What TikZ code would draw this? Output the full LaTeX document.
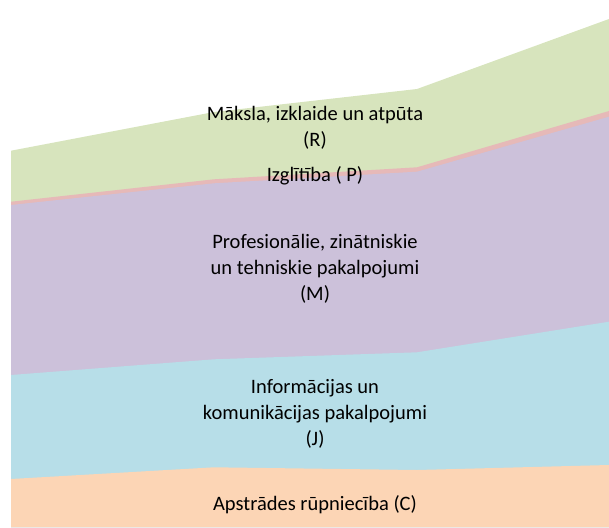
\documentclass[tikz,border=0pt]{standalone}
\usepackage{fontspec}
\setmainfont{Carlito}
\definecolor{artsgreen}{HTML}{D7E4BD}
\definecolor{edupink}{HTML}{E6B9B8}
\definecolor{profpurple}{HTML}{CCC1DA}
\definecolor{infoblue}{HTML}{B7DEE8}
\definecolor{mfgorange}{HTML}{FCD5B5}
\begin{document}
\begin{tikzpicture}[x=1pt,y=-1pt,
                every node/.style={align=center,inner sep=0pt,
                  font=\fontsize{20.5}{26}\selectfont}]
  \useasboundingbox (0,0) rectangle (609,527);
  % layers, top one first, each filled down to the base
  \foreach \col/\a/\b/\c/\d in {artsgreen/150.7/112/89/19,
                                edupink/201.7/179.3/167.3/111,
                                profpurple/205/183.3/171.7/116.7,
                                infoblue/375/359.3/352.3/321.7,
                                mfgorange/479/467.3/470/465}
    \fill[\col] (11,527) -- (11,\a) -- (214,\b) -- (417,\c) -- (609,\d)
                -- (609,527) -- cycle;
  \node (arts) at (315,127.5) {Māksla, izklaide un atpūta\\(R)};
  \node (edu)  at (315,176) {Izglītība ( P)};
  \node (prof) at (315,269) {Profesionālie, zinātniskie\\un tehniskie pakalpojumi\\(M)};
  \node (info) at (315,413.5) {Informācijas un\\komunikācijas pakalpojumi\\(J)};
  \node (mfg)  at (315,505) {Apstrādes rūpniecība (C)};
\end{tikzpicture}
\end{document}
